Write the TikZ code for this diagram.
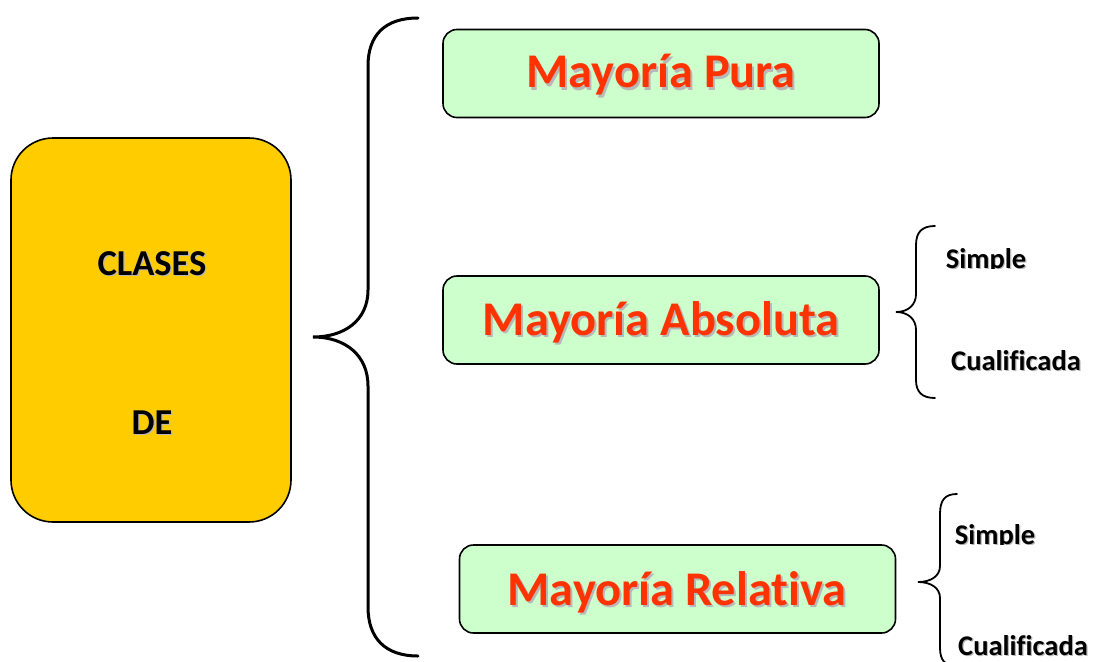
\documentclass[tikz,border=0pt]{standalone}
\usepackage{fontspec}
\setmainfont[Ligatures=NoCommon]{Carlito}
\definecolor{boxyellow}{HTML}{FFCC00}
\definecolor{boxgreen}{HTML}{CCFFCC}
\definecolor{titlered}{HTML}{FF3300}
\newcommand{\shd}[3]{\makebox[0pt][l]{\hspace{#3}\raisebox{-#3}{\textcolor{black!28}{#2}}}\textcolor{#1}{#2}}
\begin{document}
\begin{tikzpicture}[x=1pt,y=-1pt,
  yellowbox/.style={draw=black, line width=1.6pt, fill=boxyellow, rounded corners=42pt, minimum width=280pt, minimum height=384pt, inner sep=0pt},
  greenbox/.style={draw=black, line width=1.6pt, fill=boxgreen, rounded corners=14pt, minimum width=436pt, minimum height=88pt, inner sep=0pt},
  redtitle/.style={anchor=base, font=\bfseries\fontsize{48.4}{52}\selectfont, inner sep=0pt},
  blacktitle/.style={anchor=base, font=\bfseries\fontsize{36.5}{40}\selectfont, inner sep=0pt},
  subitem/.style={anchor=base, font=\bfseries\fontsize{28.5}{32}\selectfont, inner sep=0pt},
  bigbrace/.style={draw=black, line width=3pt, line cap=round},
  smallbrace/.style={draw=black, line width=1.8pt, line cap=round}]
\useasboundingbox (0,0) rectangle (1094,661);
\clip (0,0) rectangle (1094,661);
% left box
\node[yellowbox] (clases) at (151,330) {};
\node[blacktitle] (t1) at (152,275) {\shd{black}{CLASES}{1.2pt}};
\node[blacktitle] (t2) at (152,434) {\shd{black}{DE}{1.2pt}};
% green boxes
\node[greenbox] (pura) at (661,73.5) {};
\node[greenbox] (abs) at (661,320) {};
\node[greenbox] (rel) at (677.5,589) {};
\node[redtitle] (purat) at (661,88) {\shd{titlered}{Mayoría Pura}{2pt}};
\node[redtitle] (abst) at (661,335) {\shd{titlered}{Mayoría Absoluta}{2pt}};
\node[redtitle] (relt) at (677,605) {\shd{titlered}{Mayoría Relativa}{2pt}};
% big brace
\coordinate (bt) at (418,18);
\coordinate (btip) at (313,337);
\coordinate (bb) at (418,656);
\draw[bigbrace] (bt) .. controls (385,18) and (368,35) .. (368,66) -- (368,290)
  .. controls (368,320) and (345,337) .. (btip)
  .. controls (345,337) and (368,355) .. (368,386) -- (368,607)
  .. controls (368,638) and (385,656) .. (bb);
% small brace 1
\coordinate (s1t) at (935,226);
\coordinate (s1tip) at (896,312);
\coordinate (s1b) at (935,398);
\draw[smallbrace] (s1t) .. controls (922,226) and (916,232) .. (916,245) -- (916,294)
  .. controls (916,305) and (908,312) .. (s1tip)
  .. controls (908,312) and (916,319) .. (916,330) -- (916,380)
  .. controls (916,392) and (922,398) .. (s1b);
% small brace 2
\coordinate (s2t) at (957,494);
\coordinate (s2tip) at (918,582);
\coordinate (s2b) at (956,666);
\draw[smallbrace] (s2t) .. controls (945,494) and (940,500) .. (940,514) -- (940,566)
  .. controls (940,576) and (931,582) .. (s2tip)
  .. controls (931,582) and (940,588) .. (940,598) -- (940,648)
  .. controls (940,660) and (945,666) .. (s2b);
% sub items
\begin{scope}
\clip (930,230) rectangle (1070,268.5);
\node[subitem] (simple1) at (986,268.5) {\shd{black}{Simple}{1.2pt}};
\end{scope}
\node[subitem] (cual1) at (1016,370) {\shd{black}{Cualificada}{1.2pt}};
\begin{scope}
\clip (930,500) rectangle (1070,544.5);
\node[subitem] (simple2) at (995,544.5) {\shd{black}{Simple}{1.2pt}};
\end{scope}
\node[subitem] (cual2) at (1023,655) {\shd{black}{Cualificada}{1.2pt}};
\end{tikzpicture}
\end{document}
